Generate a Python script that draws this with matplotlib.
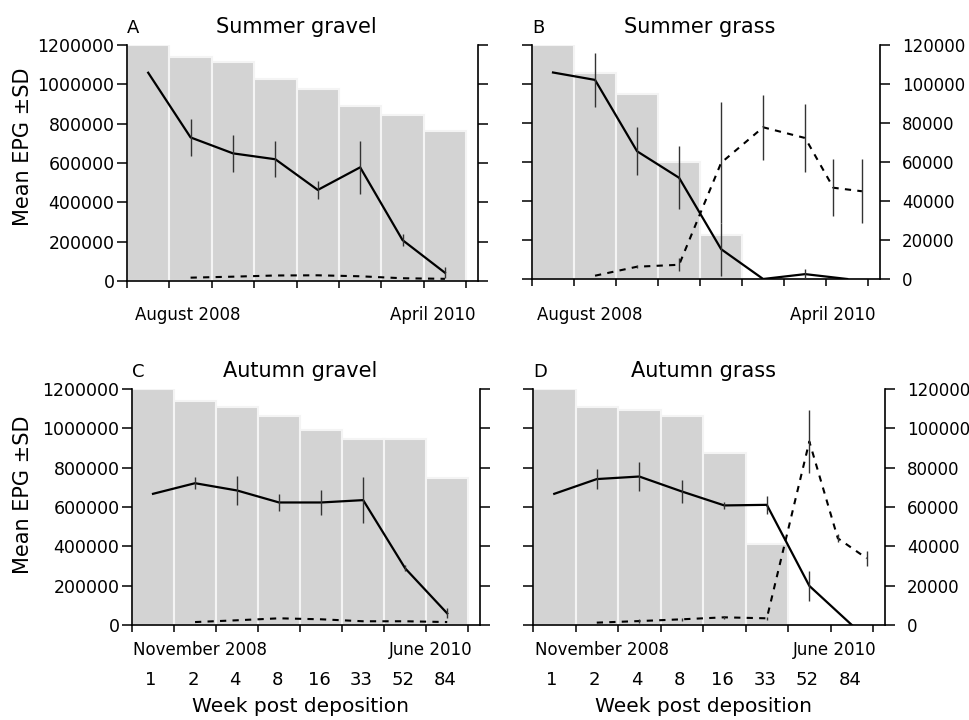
import numpy as np
import matplotlib
matplotlib.use("Agg")
import matplotlib.pyplot as plt
from matplotlib.ticker import MultipleLocator, StrMethodFormatter

plt.rcParams["font.family"] = ["DejaVu Sans"]

weeks = ["1", "2", "4", "8", "16", "33", "52", "84"]

# bars (left axis units)
bars_a = [1200000, 1140000, 1115000, 1027000, 976000, 890000, 846000, 764000]
bars_b = [1200000, 1055000, 948000, 601000, 225000, 0, 0, 0]
bars_c = [1200000, 1140000, 1111000, 1064000, 989000, 947000, 947000, 747000]
bars_d = [1200000, 1106000, 1095000, 1061000, 877000, 412000, 0, 0]

# solid line, mean EPG (left axis)
pat_a = [1059000, 730000, 649000, 619000, 463000, 578000, 208000, 42000]
pat_a_sd = [0, 93000, 95000, 92000, 47000, 134000, 31000, 28000]
pat_b = [1059000, 1021000, 655000, 519000, 153000, 0, 25000, 0]
pat_b_sd = [0, 139000, 122000, 162000, 136000, 0, 25000, 0]
pat_c = [667000, 721000, 684000, 623000, 623000, 635000, 288000, 59000]
pat_c_sd = [0, 30000, 72000, 42000, 65000, 117000, 15000, 25000]
pat_d = [667000, 742000, 755000, 679000, 608000, 611000, 199000, 0]
pat_d_sd = [0, 51000, 75000, 57000, 17000, 45000, 75000, 0]

# dashed line (right axis), x in category units
soil_a_x = [1.5, 2.5, 3.5, 4.5, 5.5, 6.5, 7.5]
soil_a = [1700, 2200, 2800, 2900, 2400, 1400, 1100]
soil_a_sd = [0, 0, 0, 0, 0, 0, 0]
soil_b_x = [1.5, 2.5, 3.5, 4.5, 5.5, 6.5, 7.17, 7.85]
soil_b = [1700, 6300, 7300, 59600, 77800, 72300, 46800, 45000]
soil_b_sd = [0, 900, 3400, 31000, 16600, 17400, 14500, 16300]
soil_c_x = [1.5, 2.5, 3.5, 4.5, 5.5, 6.5, 7.5]
soil_c = [1500, 2400, 3400, 2900, 1900, 1900, 1500]
soil_c_sd = [0, 0, 0, 0, 0, 0, 0]
soil_d_x = [1.5, 2.5, 3.5, 4.5, 5.5, 6.5, 7.17, 7.85]
soil_d = [1200, 2000, 2900, 3900, 3400, 93300, 44100, 33900]
soil_d_sd = [0, 800, 800, 800, 800, 15800, 2100, 3800]

W, H = 969, 720


def rect(left, top, right, bottom):
    return [left / W, 1 - bottom / H, (right - left) / W, (bottom - top) / H]


def errbars(ax, x, y, sd):
    x, y, sd = map(np.asarray, (x, y, sd))
    m = sd > 0
    ax.vlines(x[m], y[m] - sd[m], y[m] + sd[m], color="#333333", lw=1.0, zorder=4)


def panel(fig, box, letter, title, bars, pat, pat_sd, sx, soil, soil_sd,
          left_lab, right_lab, dates, date_y, date_x, show_weeks):
    ax = fig.add_axes(box)
    centers = np.arange(8) + 0.5
    ax.bar(centers, bars, width=1.0, color="#d3d3d3", edgecolor="#f4f4f4",
           linewidth=1.5, zorder=1)
    ax.plot(centers, pat, color="black", lw=1.6, zorder=3)
    errbars(ax, centers, pat, pat_sd)
    ax.set_xlim(0, 8.28)
    ax.set_ylim(0, 1200000)
    ax.yaxis.set_major_locator(MultipleLocator(200000))
    ax.yaxis.set_major_formatter(StrMethodFormatter("{x:.0f}"))
    ax.set_xticks(np.arange(9))
    ax.tick_params(axis="x", length=5, width=1.1, labelbottom=False)
    ax.tick_params(axis="y", length=7, width=1.1, labelsize=12.5, pad=2,
                   labelleft=left_lab)
    for s in ["top", "right"]:
        ax.spines[s].set_visible(False)
    for s in ["left", "bottom"]:
        ax.spines[s].set_linewidth(1.2)

    ax2 = ax.twinx()
    ax2.plot(sx, soil, color="black", lw=1.5, ls=(0, (3, 3)), zorder=3)
    errbars(ax2, sx, soil, soil_sd)
    ax2.set_ylim(0, 120000)
    ax2.yaxis.set_major_locator(MultipleLocator(20000))
    ax2.yaxis.set_major_formatter(StrMethodFormatter("{x:.0f}"))
    ax2.tick_params(axis="y", length=7, width=1.1, labelsize=12, pad=9,
                    labelright=right_lab)
    for s in ["top", "left", "bottom"]:
        ax2.spines[s].set_visible(False)
    ax2.spines["right"].set_linewidth(1.2)

    tr = ax.get_xaxis_transform()
    ax.text(0, 1.051, letter, transform=tr, fontsize=13, va="baseline", ha="left")
    ax.text(4, 1.051, title, transform=tr, fontsize=15, va="baseline", ha="center")
    ax.text(date_x[0], date_y, dates[0], transform=tr, fontsize=12,
            ha="center", va="center")
    ax.text(date_x[1], date_y, dates[1], transform=tr, fontsize=12,
            ha="center", va="center")
    if show_weeks:
        for c, w in zip(centers, weeks):
            ax.text(c - 0.05, -0.233, w, transform=tr, fontsize=13,
                    ha="center", va="center")
        ax.text(4, -0.345, "Week post deposition", transform=tr, fontsize=14.5,
                ha="center", va="center")
    return ax


fig = plt.figure(figsize=(W / 100, H / 100), dpi=100)

panel(fig, rect(127, 45, 478, 281), "A", "Summer gravel", bars_a, pat_a, pat_a_sd,
      soil_a_x, soil_a, soil_a_sd, True, False,
      ("August 2008", "April 2010"), -0.144, (1.44, 7.22), False)
panel(fig, rect(532, 45, 880, 279), "B", "Summer grass", bars_b, pat_b, pat_b_sd,
      soil_b_x, soil_b, soil_b_sd, False, True,
      ("August 2008", "April 2010"), -0.155, (1.37, 7.15), False)
panel(fig, rect(132, 389, 480, 625), "C", "Autumn gravel", bars_c, pat_c, pat_c_sd,
      soil_c_x, soil_c, soil_c_sd, True, False,
      ("November 2008", "June 2010"), -0.106, (1.62, 7.1), True)
panel(fig, rect(533, 389, 885, 625), "D", "Autumn grass", bars_d, pat_d, pat_d_sd,
      soil_d_x, soil_d, soil_d_sd, False, True,
      ("November 2008", "June 2010"), -0.106, (1.63, 7.09), True)

fig.text(23 / W, 1 - 147 / H, "Mean EPG \u00b1SD", rotation=90, fontsize=15,
         ha="center", va="center")
fig.text(23 / W, 1 - 495 / H, "Mean EPG \u00b1SD", rotation=90, fontsize=15,
         ha="center", va="center")

fig.savefig("out.png", dpi=100)
